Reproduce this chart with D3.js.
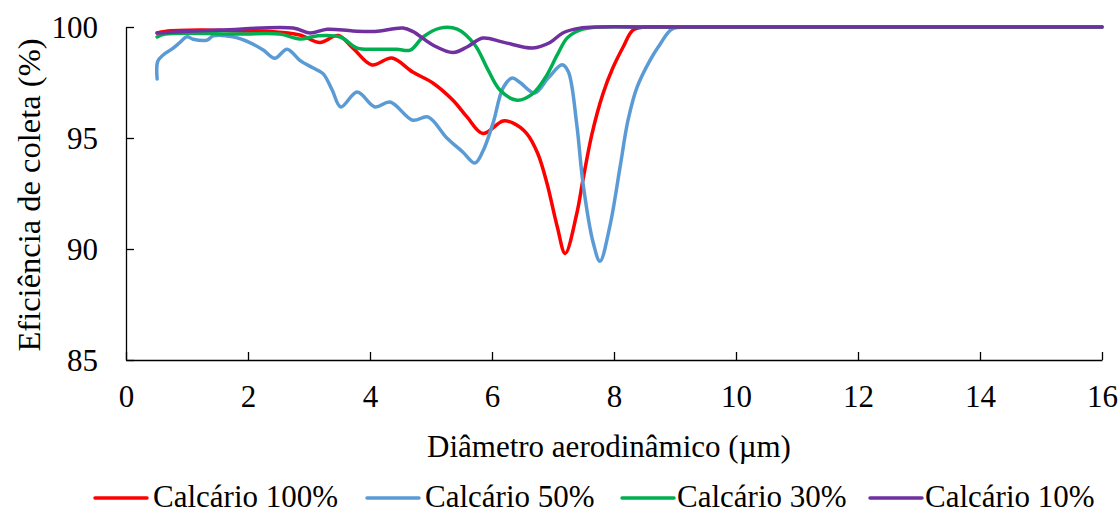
<!DOCTYPE html>
<html>
<head>
<meta charset="utf-8">
<script src="https://cdn.jsdelivr.net/npm/d3@7"></script>
<style>
  html, body { margin: 0; padding: 0; background: #fff; }
  svg { display: block; }
  text { font-family: "Liberation Serif", "Times New Roman", serif; fill: #000; }
</style>
</head>
<body>
<svg id="chart" width="1118" height="514"></svg>
<script>
// Diâmetro aerodinâmico (µm) and collection efficiency (%) for each limestone blend
const seriesNames = ["Calcário 100%", "Calcário 50%", "Calcário 30%", "Calcário 10%"];
const seriesColors = ["#FF0000", "#5B9BD5", "#00B050", "#7030A0"];

const tail = [[9.3, 100], [10, 100], [11, 100], [12, 100], [13, 100], [14, 100], [15, 100], [16, 100]];

const calcario100 = [
  [0.51, 99.73], [0.64, 99.8], [1.21, 99.86], [1.87, 99.82], [2.36, 99.8], [2.85, 99.64],
  [3.18, 99.3], [3.48, 99.62], [3.72, 99.05], [4.03, 98.29], [4.36, 98.6], [4.7, 97.97],
  [5.03, 97.48], [5.36, 96.7], [5.59, 95.95], [5.85, 95.2], [6.18, 95.77], [6.34, 95.68],
  [6.57, 95.2], [6.75, 94.3], [6.9, 92.97], [7.07, 91.0], [7.2, 89.8], [7.39, 91.6],
  [7.49, 93.1], [7.64, 95.2], [7.82, 97.0], [7.98, 98.15], [8.15, 99.1], [8.31, 99.86],
  [8.5, 100], [8.9, 100]
].concat(tail);

const calcario50 = [
  [0.51, 97.66], [0.52, 98.45], [0.61, 98.74], [0.75, 99.0], [0.87, 99.27], [1.0, 99.56],
  [1.1, 99.45], [1.33, 99.41], [1.43, 99.6], [1.75, 99.56], [2.03, 99.3], [2.25, 98.96],
  [2.44, 98.59], [2.64, 99.0], [2.85, 98.5], [3.07, 98.15], [3.23, 97.9], [3.38, 97.16],
  [3.52, 96.4], [3.79, 97.07], [4.08, 96.4], [4.33, 96.62], [4.7, 95.8], [4.95, 95.95],
  [5.26, 95.0], [5.52, 94.37], [5.72, 93.87], [5.85, 94.4], [6.02, 95.7], [6.18, 97.25],
  [6.33, 97.7], [6.46, 97.5], [6.7, 97.03], [6.92, 97.7], [7.15, 98.3], [7.25, 98.0],
  [7.39, 95.6], [7.49, 93.0], [7.66, 90.27], [7.77, 89.45], [7.93, 91.0], [8.1, 93.7],
  [8.23, 95.8], [8.38, 97.3], [8.59, 98.5], [8.75, 99.2], [8.95, 99.9]
].concat(tail);

const calcario30 = [
  [0.51, 99.55], [0.64, 99.68], [1.87, 99.68], [2.52, 99.68], [2.85, 99.46], [3.13, 99.6],
  [3.51, 99.55], [3.79, 99.05], [4.11, 99.0], [4.44, 99.0], [4.66, 98.96], [4.87, 99.55],
  [5.15, 99.95], [5.43, 99.9], [5.72, 99.19], [5.92, 98.15], [6.13, 97.16], [6.41, 96.7],
  [6.67, 97.0], [6.87, 97.7], [7.07, 98.74], [7.23, 99.5], [7.44, 99.86], [7.77, 100],
  [8.5, 100], [8.9, 100]
].concat(tail);

const calcario10 = [
  [0.51, 99.73], [1.54, 99.86], [2.74, 99.95], [3.02, 99.73], [3.3, 99.9], [3.72, 99.82],
  [4.08, 99.8], [4.54, 99.95], [4.7, 99.8], [5.03, 99.19], [5.36, 98.85], [5.59, 99.1],
  [5.85, 99.5], [6.18, 99.32], [6.67, 99.05], [6.95, 99.3], [7.16, 99.73], [7.44, 99.95],
  [7.77, 100], [8.5, 100], [8.9, 100]
].concat(tail);

const seriesValues = [calcario100, calcario50, calcario30, calcario10];

const xTicks = [0, 2, 4, 6, 8, 10, 12, 14, 16];
const yTicks = [85, 90, 95, 100];

const svg = d3.select("#chart");
const plotLeft = 126, plotRight = 1102, plotTop = 27, plotBottom = 360;
const serif = '"Liberation Serif", "Times New Roman", serif';

const x = d3.scaleLinear().domain([0, 16]).range([plotLeft, plotRight]);
const y = d3.scaleLinear().domain([85, 100]).range([plotBottom, plotTop]);

// axes with inward ticks
const xAxis = svg.append("g")
  .attr("transform", `translate(0,${plotBottom})`)
  .call(d3.axisBottom(x).tickValues(xTicks).tickSizeInner(-8).tickSizeOuter(0));
const yAxis = svg.append("g")
  .attr("transform", `translate(${plotLeft},0)`)
  .call(d3.axisLeft(y).tickValues(yTicks).tickSizeInner(-8).tickSizeOuter(0));

[xAxis, yAxis].forEach(g => {
  g.attr("font-family", null).attr("font-size", null);
  g.select(".domain").attr("stroke", "#000").attr("stroke-width", 1.3);
  g.selectAll(".tick line").attr("stroke", "#000").attr("stroke-width", 1.3);
  g.selectAll(".tick text")
    .style("font-family", serif)
    .style("font-size", "31px").attr("fill", "#000");
});
xAxis.selectAll(".tick text").attr("y", 47).attr("dy", null);
yAxis.selectAll(".tick text").attr("x", -28).attr("dy", "0.34em");

// series lines
const line = d3.line()
  .x(d => x(d[0]))
  .y(d => y(d[1]))
  .curve(d3.curveCatmullRom.alpha(0.5));

seriesValues.forEach((vals, i) => {
  svg.append("path")
    .datum(vals)
    .attr("fill", "none")
    .attr("stroke", seriesColors[i])
    .attr("stroke-width", 3.5)
    .attr("stroke-linejoin", "round")
    .attr("stroke-linecap", "round")
    .attr("d", line);
});

// axis titles
svg.append("text")
  .attr("x", 609).attr("y", 457)
  .attr("text-anchor", "middle")
  .style("font-family", serif)
  .style("font-size", "31px")
  .text("Diâmetro aerodinâmico (µm)");

svg.append("text")
  .attr("transform", "translate(40,195) rotate(-90)")
  .attr("text-anchor", "middle")
  .style("font-family", serif)
  .style("font-size", "32.5px")
  .text("Eficiência de coleta (%)");

// legend along the bottom edge
const legendLineX = [95, 367, 622, 870];
const legendTextX = [153, 425, 677, 925];
const legend = svg.append("g");
seriesNames.forEach((name, i) => {
  legend.append("line")
    .attr("x1", legendLineX[i]).attr("x2", legendLineX[i] + 52)
    .attr("y1", 498).attr("y2", 498)
    .attr("stroke", seriesColors[i])
    .attr("stroke-width", 3.5)
    .attr("stroke-linecap", "round");
  legend.append("text")
    .attr("x", legendTextX[i]).attr("y", 507)
    .style("font-family", serif)
    .style("font-size", "31px")
    .text(name);
});
</script>
</body>
</html>
